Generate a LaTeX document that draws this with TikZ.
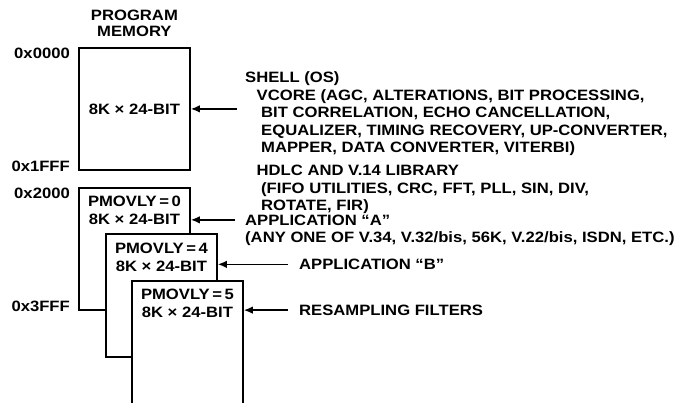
\documentclass[tikz,border=0pt]{standalone}
\usepackage{fontspec}
\setmainfont[FakeStretch=1.11]{Liberation Sans}
\usetikzlibrary{arrows.meta,positioning,calc}
\definecolor{pmInk}{HTML}{000000}
\tikzset{
  pmbox/.style={rectangle,draw=pmInk,line width=1.8pt,fill=white,minimum width=111pt,minimum height=122.6pt,anchor=north west,inner sep=0pt},
  pmtext/.style={font=\bfseries\fontsize{15}{18.3}\selectfont,text=pmInk,align=center,inner sep=0pt},
  pmaddr/.style={font=\bfseries\fontsize{15}{18}\selectfont,text=pmInk,inner sep=0pt},
  pmnote/.style={font=\bfseries\fontsize{15}{17.5}\selectfont,text=pmInk,align=left,inner sep=0pt},
  pmlink/.style={-{Latex[length=9pt,width=7.5pt]},draw=pmInk,line width=1.5pt}
}
\begin{document}
\begin{tikzpicture}[x=1pt,y=-1pt]
\useasboundingbox (0,0) rectangle (683,402);

% ---- PROGRAM MEMORY ----
\node[pmbox,pmtext] (pm) at (78,46.7) {8K × 24-BIT};
\node[pmtext, font=\bfseries\fontsize{15}{16}\selectfont, above=10pt of pm] (title) {PROGRAM\\MEMORY};
\node[pmaddr, anchor=base east] (a0000) at ($(pm.north west)+(-8,11.8)$) {0x0000};
\node[pmaddr, anchor=base east] (a1fff) at ($(pm.south west)+(-8,0)$) {0x1FFF};

% ---- OVERLAYS ----
\node[pmbox] (ov0) at (78,186.7) {};
\node[pmtext, below=9.3pt of ov0.north] (ov0txt) {PMOVLY\,=\,0\\8K × 24-BIT};
\node[pmbox] (ov4) at (105,233.3) {};
\node[pmtext, below=9.3pt of ov4.north] (ov4txt) {PMOVLY\,=\,4\\8K × 24-BIT};
\node[pmbox] (ov5) at (131,280) {};
\node[pmtext, below=9pt of ov5.north] (ov5txt) {PMOVLY\,=\,5\\8K × 24-BIT};
\node[pmaddr, anchor=base east] (a2000) at ($(ov0.north west)+(-8,11.3)$) {0x2000};
\node[pmaddr, anchor=base east] (a3fff) at ($(ov0.south west)+(-8,0.5)$) {0x3FFF};

% ---- CONTENTS ----
\node[pmnote, anchor=north west] (shell) at (245,71.5) {SHELL (OS)\\
\hspace*{11.5pt}VCORE (AGC, ALTERATIONS, BIT PROCESSING,\\
\hspace*{16pt}BIT CORRELATION, ECHO CANCELLATION,\\
\hspace*{16pt}EQUALIZER, TIMING RECOVERY, UP-CONVERTER,\\
\hspace*{16pt}MAPPER, DATA CONVERTER, VITERBI)\\[5.5pt]
\hspace*{11.5pt}HDLC AND V.14 LIBRARY\\
\hspace*{16pt}(FIFO UTILITIES, CRC, FFT, PLL, SIN, DIV,\\
\hspace*{16pt}ROTATE, FIR)};
\draw[pmlink] ($(pm.east -| shell.west)+(-8,0)$) -- (pm.east);

\node[pmaddr, anchor=base west] (appa) at (245,225) {APPLICATION ``A''};
\node[pmaddr, anchor=base west] (appanote) at ($(appa.base west)+(0,17.3)$) {(ANY ONE OF V.34, V.32/bis, 56K, V.22/bis, ISDN, ETC.)};
\draw[pmlink] ([xshift=-10pt]appa.west) -- (appa.west -| ov0.east);

\node[pmaddr, anchor=base west] (appb) at (299,269.5) {APPLICATION ``B''};
\draw[pmlink] ([xshift=-11pt]appb.west) -- (appb.west -| ov4.east);

\node[pmaddr, anchor=base west] (resamp) at (299,315.3) {RESAMPLING FILTERS};
\draw[pmlink] ([xshift=-11pt]resamp.west) -- (resamp.west -| ov5.east);

\end{tikzpicture}
\end{document}
